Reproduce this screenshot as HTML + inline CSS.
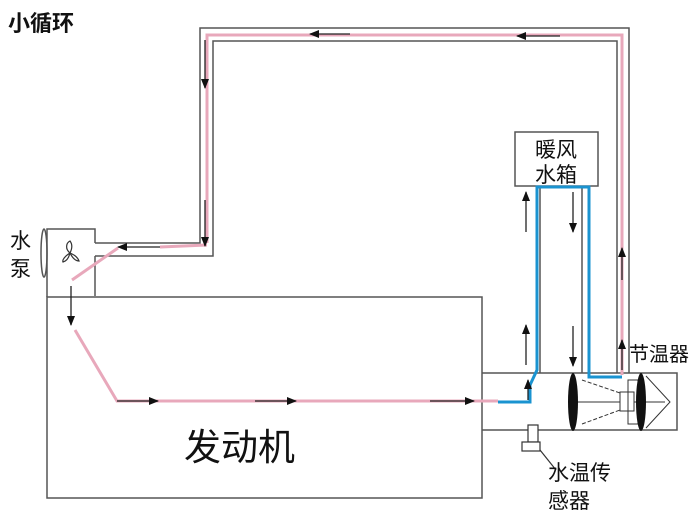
<!DOCTYPE html>
<html><head><meta charset="utf-8"><style>
html,body{margin:0;padding:0;background:#fff;}
svg{display:block;}
text{font-family:"Liberation Sans","Noto Sans CJK SC",sans-serif;fill:#111;}
</style></head><body>
<svg width="700" height="522" viewBox="0 0 700 522" xmlns="http://www.w3.org/2000/svg">
<defs>
<marker id="a" viewBox="0 0 10 10" refX="9" refY="5" markerWidth="10" markerHeight="10" markerUnits="userSpaceOnUse" orient="auto"><path d="M0,1 L10,5 L0,9 Z" fill="#111"/></marker>
</defs>
<g stroke="#555" stroke-width="1.5" fill="none">
<polyline points="95,243 200,243 200,28 629,28 629,373"/>
<polyline points="95,256 213,256 213,41 617,41 617,373"/>
<polyline points="95,243 95,229 47,229 47,297"/>
<line x1="95" y1="256" x2="95" y2="296"/>
<rect x="47" y="297" width="435" height="201"/>
<polyline points="482,373 677,373 677,430 482,430"/>
<line x1="540" y1="186" x2="540" y2="373"/>
<line x1="582" y1="186" x2="582" y2="373"/>
<rect x="515" y="132" width="83" height="54" fill="#fff"/>
</g>
<ellipse cx="44" cy="253" rx="3" ry="24" fill="none" stroke="#555" stroke-width="1.5"/>
<g stroke="#333" stroke-width="1.2" fill="none">
<path d="M70,253 C65,249 66,243 70,241 C73,245 72,249 70,253"/>
<path d="M70,253 C65,256 62,260 63,262 C67,261 69,257 70,253"/>
<path d="M70,253 C75,255 78,258 79,261 C75,261 72,257 70,253"/>
</g>
<g stroke="#e8a8bb" stroke-width="3" fill="none">
<polyline points="207,60 207,35 622,35 622,375"/>
<line x1="207" y1="60" x2="207" y2="243"/>
<line x1="207" y1="245" x2="160" y2="247"/>
<line x1="118" y1="248" x2="72" y2="280"/>
<polyline points="75,330 117,401 498,401"/>
</g>
<g stroke="#1a93d0" stroke-width="3" fill="none">
<polyline points="498,402 530,402 530,385 537,370 537,187 589,187 589,377 622,377"/>
</g>
<g stroke="#222" stroke-width="1.3" fill="none" marker-end="url(#a)">
<line x1="350" y1="34" x2="310" y2="34"/>
<line x1="560" y1="36" x2="517" y2="36"/>
<line x1="205" y1="40" x2="205" y2="88"/>
<line x1="205" y1="200" x2="205" y2="246"/>
<line x1="160" y1="247" x2="118" y2="247"/>
<line x1="71" y1="286" x2="71" y2="325"/>
<line x1="117" y1="401" x2="158" y2="401"/>
<line x1="255" y1="401" x2="296" y2="401"/>
<line x1="430" y1="401" x2="474" y2="401"/>
<line x1="526" y1="232" x2="526" y2="192"/>
<line x1="526" y1="365" x2="526" y2="325"/>
<line x1="528" y1="400" x2="528" y2="380"/>
<line x1="573" y1="192" x2="573" y2="232"/>
<line x1="573" y1="326" x2="573" y2="366"/>
<line x1="622" y1="280" x2="622" y2="248"/>
<line x1="622" y1="370" x2="622" y2="340"/>
</g>
<g stroke="#333" stroke-width="1" fill="none">
<polyline points="582,380 620,393" stroke-dasharray="4,2"/>
<polyline points="582,424 620,410" stroke-dasharray="4,2"/>
<line x1="577" y1="402" x2="665" y2="402"/>
<polyline points="646,376 670,402 646,428"/>
<rect x="620" y="392" width="14" height="19" fill="#fff"/>
<rect x="628" y="380" width="10" height="44"/>
</g>
<ellipse cx="573" cy="402" rx="5" ry="29" fill="#111"/>
<ellipse cx="641" cy="402" rx="5" ry="29" fill="#111"/>
<g stroke="#333" stroke-width="1.2" fill="#fff">
<rect x="528" y="425" width="10" height="17"/>
<rect x="522" y="442" width="18" height="9"/>
<line x1="540" y1="450" x2="556" y2="470"/>
</g>
<text x="8" y="31" font-size="22" font-weight="bold">小循环</text>
<text x="10" y="248" font-size="21">水</text>
<text x="10" y="276" font-size="21">泵</text>
<text x="184" y="460" font-size="37" font-family="'Noto Serif CJK SC',serif">发动机</text>
<text x="535" y="157" font-size="21">暖风</text>
<text x="535" y="182" font-size="21">水箱</text>
<text x="629" y="361" font-size="20">节温器</text>
<text x="548" y="480" font-size="21">水温传</text>
<text x="548" y="508" font-size="21">感器</text>
</svg>
</body></html>
